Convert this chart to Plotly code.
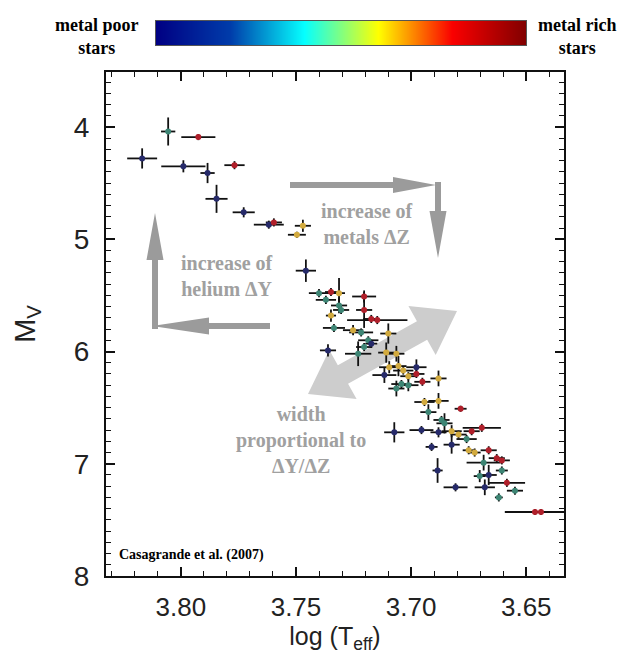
import plotly.graph_objects as go

# ---------------- data ----------------
log_teff = [3.8055, 3.7924, 3.8168, 3.7989, 3.7884, 3.7767, 3.7845, 3.7727, 3.7618, 3.7596, 3.7470, 3.7496, 3.7457,
            3.7400, 3.7348, 3.7313, 3.7370, 3.7313, 3.7304, 3.7348, 3.7335, 3.7204, 3.7204, 3.7173, 3.7147, 3.7252,
            3.7217, 3.7099, 3.7186, 3.7173, 3.7361, 3.7230, 3.7204, 3.7108, 3.7064,
            3.7116, 3.7095, 3.7055, 3.7034, 3.6977, 3.6977, 3.7012, 3.7042, 3.7012, 3.7064, 3.6951, 3.6881, 3.6942,
            3.6881, 3.6925, 3.6868, 3.6785,
            3.7073, 3.6955, 3.6881, 3.6855, 3.6824, 3.6794, 3.6737, 3.6693, 3.6759, 3.6911, 3.6824, 3.6750, 3.6724,
            3.6663, 3.6628, 3.6606, 3.6685, 3.6885, 3.6702, 3.6663, 3.6606, 3.6584, 3.6549, 3.6807, 3.6680, 3.6619,
            3.6462, 3.6436]
mv = [4.04, 4.09, 4.28, 4.35, 4.41, 4.34, 4.64, 4.76, 4.87, 4.85, 4.88, 4.96, 5.28,
      5.48, 5.47, 5.48, 5.54, 5.59, 5.63, 5.68, 5.79, 5.51, 5.63, 5.71, 5.72, 5.81, 5.83, 5.84, 5.90, 5.93, 5.99,
      6.02, 5.96, 6.01, 6.02,
      6.21, 6.14, 6.13, 6.17, 6.14, 6.20, 6.22, 6.29, 6.30, 6.33, 6.27, 6.24, 6.45, 6.44, 6.54, 6.61, 6.51,
      6.72, 6.70, 6.72, 6.64, 6.71, 6.74, 6.71, 6.68, 6.78, 6.85, 6.83, 6.88, 6.90, 6.88, 6.95, 6.97, 6.99, 7.06,
      7.11, 7.10, 7.06, 7.17, 7.24, 7.21, 7.21, 7.30, 7.43, 7.43]
err_log_teff = [0.0031, 0.0074, 0.0065, 0.0096, 0.0031, 0.0044, 0.0048, 0.0048, 0.0065, 0.0035, 0.0035, 0.0039, 0.0044,
                0.0044, 0.0026, 0.0026, 0.0044, 0.0035, 0.0035, 0.0022, 0.0048, 0.0052, 0.0035, 0.0035, 0.0131, 0.0044,
                0.0052, 0.0035, 0.0044, 0.0026, 0.0035, 0.0057, 0.0035, 0.0035, 0.0035,
                0.0052, 0.0044, 0.0035, 0.0044, 0.0044, 0.0035, 0.0035, 0.0044, 0.0044, 0.0035, 0.0035, 0.0035, 0.0044,
                0.0044, 0.0035, 0.0035, 0.0026,
                0.0044, 0.0052, 0.0035, 0.0035, 0.0044, 0.0035, 0.0035, 0.0083, 0.0044, 0.0026, 0.0035, 0.0026, 0.0026,
                0.0035, 0.0035, 0.0035, 0.0074, 0.0022, 0.0026, 0.0035, 0.0026, 0.0079, 0.0035, 0.0052, 0.0044, 0.0017,
                0.0131, 0.0044]
err_mv = [0.125, 0.027, 0.09, 0.054, 0.09, 0.036, 0.125, 0.045, 0.036, 0.036, 0.054, 0.027, 0.10,
          0.036, 0.036, 0.135, 0.036, 0.07, 0.036, 0.054, 0.036, 0.054, 0.16, 0.036, 0.036, 0.045, 0.036, 0.09,
          0.036, 0.036, 0.054, 0.11, 0.036, 0.09, 0.07,
          0.07, 0.054, 0.09, 0.036, 0.07, 0.036, 0.036, 0.036, 0.054, 0.07, 0.036, 0.07, 0.036, 0.07, 0.07, 0.036, 0.027,
          0.09, 0.036, 0.045, 0.09, 0.054, 0.036, 0.036, 0.036, 0.036, 0.036, 0.08, 0.036, 0.036, 0.036, 0.036, 0.036,
          0.07, 0.11, 0.054, 0.09, 0.036, 0.036, 0.036, 0.036, 0.07, 0.036, 0.027, 0.027]
# metallicity class: 0 = metal poor ... 3 = metal rich
metal_class = [1, 3, 0, 0, 0, 3, 0, 0, 0, 3, 2, 2, 0,
               1, 3, 2, 1, 1, 1, 2, 1, 3, 3, 3, 3, 2, 1, 2, 1, 0, 0, 1, 1, 2, 2,
               0, 2, 2, 2, 0, 3, 2, 1, 1, 1, 3, 2, 2, 2, 1, 1, 3,
               0, 0, 0, 1, 2, 2, 3, 3, 1, 0, 0, 2, 2, 3, 3, 3, 1, 0, 1, 0, 1, 3, 1, 0, 0, 1, 3, 3]
metallicity_scale = [0, 1]          # ends of the colour bar (metal poor -> metal rich)
x_ticks = [3.80, 3.75, 3.70, 3.65]
y_ticks = [4, 5, 6, 7, 8]

# ---------------- styling ----------------
class_colors = {0: "#262a6a", 1: "#3d8574", 2: "#d2aa3e", 3: "#b01f2a"}
W, H = 622, 659
L, R, T, B = 106, 564, 72, 576          # plot frame in pixels


def pp(x, y):
    """pixel -> paper (paper == whole figure, margins are zero)"""
    return x / W, 1 - y / H


def arrow_path(x0, y0, x1, y1, w, hl, hw, double=False):
    dx, dy = x1 - x0, y1 - y0
    ln = (dx * dx + dy * dy) ** 0.5
    ux, uy = dx / ln, dy / ln
    nx, ny = -uy, ux
    bx, by = x1 - ux * hl, y1 - uy * hl
    if double:
        sx, sy = x0 + ux * hl, y0 + uy * hl
    else:
        sx, sy = x0, y0
    pts = [(sx + nx * w / 2, sy + ny * w / 2), (bx + nx * w / 2, by + ny * w / 2),
           (bx + nx * hw / 2, by + ny * hw / 2), (x1, y1),
           (bx - nx * hw / 2, by - ny * hw / 2), (bx - nx * w / 2, by - ny * w / 2),
           (sx - nx * w / 2, sy - ny * w / 2)]
    if double:
        pts += [(sx - nx * hw / 2, sy - ny * hw / 2), (x0, y0), (sx + nx * hw / 2, sy + ny * hw / 2)]
    return "M " + " L ".join("%.5f,%.5f" % pp(a, b) for a, b in pts) + " Z"


fig = go.Figure()

fig.add_trace(go.Scatter(
    x=log_teff, y=mv, mode="markers",
    marker=dict(color=[class_colors[c] for c in metal_class], size=6, line=dict(width=0)),
    error_x=dict(type="data", array=err_log_teff, color="#111111", thickness=1.8, width=0),
    error_y=dict(type="data", array=err_mv, color="#111111", thickness=1.8, width=0),
    showlegend=False, hoverinfo="skip"))

# colour bar drawn as a smoothed two-cell heatmap in its own small axes
fig.add_trace(go.Heatmap(
    z=[metallicity_scale], x=metallicity_scale, y=[0], zsmooth="best",
    colorscale="Jet", zmin=0, zmax=1, showscale=False, hoverinfo="skip",
    xaxis="x2", yaxis="y2"))

g1 = "#9b9b9b"
g2 = "#cdcdcd"
shape_specs = [
    ((290, 185, 436, 185, 6, 43, 16, False), g1),
    ((438, 182, 438, 258, 6, 47, 17, False), g1),
    ((155, 329, 155, 213, 6, 47, 17, False), g1),
    ((270, 326, 152, 326, 6, 57, 17, False), g1),
    ((308, 394, 457, 311, 21, 40, 56, True), g2),
]
shapes = [dict(type="path", path=arrow_path(*a[:7], double=a[7]), fillcolor=c, line=dict(width=0),
               xref="paper", yref="paper", layer="below") for a, c in shape_specs]

serif_gray = dict(family="Liberation Serif", size=20, color="#a0a0a0", weight="bold")
serif_black = dict(family="Liberation Serif", size=18, color="#000", weight="bold")
annotations = []


def txt(x, y, s, font, xanchor="center"):
    xp, yp = pp(x, y)
    annotations.append(dict(x=xp, y=yp, xref="paper", yref="paper", text=s, showarrow=False,
                            font=font, xanchor=xanchor, yanchor="middle", align="center"))


txt(367, 224, "increase of<br>metals \u0394Z", serif_gray)
txt(227, 276, "increase of<br>helium \u0394Y", serif_gray)
txt(301, 440, "width<br>proportional to<br>\u0394Y/\u0394Z", serif_gray)
txt(117, 555, "Casagrande et al. (2007)", dict(family="Liberation Serif", size=14, color="#000", weight="bold"),
    xanchor="left")
txt(96, 36, "metal poor<br>stars", serif_black)
txt(577, 36, "metal rich<br>stars", serif_black)

common = dict(showline=True, linewidth=2, linecolor="#111", mirror="allticks", ticks="inside",
              tickwidth=1.6, tickcolor="#111", ticklen=9, showgrid=False, zeroline=False)

fig.update_layout(
    width=W, height=H, margin=dict(l=0, r=0, t=0, b=0, autoexpand=False),
    paper_bgcolor="white", plot_bgcolor="white",
    xaxis=dict(domain=[L / W, R / W], range=[3.8325, 3.6336], tickmode="array", tickvals=x_ticks,
               ticktext=["%.2f" % v for v in x_ticks], ticklabelstandoff=7,
               tickfont=dict(family="Liberation Sans", size=26, color="#222"),
               minor=dict(ticks="inside", dtick=0.01, tick0=3.80, ticklen=5, tickwidth=1.4, tickcolor="#111"),
               title=dict(text="log (T<sub>eff</sub>)", font=dict(family="Liberation Sans", size=25, color="#222"),
                          standoff=6),
               **common),
    yaxis=dict(domain=[1 - B / H, 1 - T / H], range=[8.0, 3.51], tickmode="array", tickvals=y_ticks,
               ticklabelstandoff=9,
               tickfont=dict(family="Liberation Sans", size=28, color="#222"),
               minor=dict(ticks="inside", dtick=0.1, tick0=4, ticklen=5, tickwidth=1.4, tickcolor="#111"),
               title=dict(text="M<sub>V</sub>", font=dict(family="Liberation Sans", size=29, color="#222"),
                          standoff=30),
               **common),
    xaxis2=dict(domain=[156 / W, 526 / W], range=[0, 1], anchor="y2", showticklabels=False, ticks="",
                showgrid=False, zeroline=False, showline=True, linecolor="#555", linewidth=1, mirror=True),
    yaxis2=dict(domain=[1 - 45 / H, 1 - 21 / H], range=[-0.5, 0.5], anchor="x2", showticklabels=False,
                ticks="", showgrid=False, zeroline=False, showline=True, linecolor="#555", linewidth=1,
                mirror=True),
    shapes=shapes, annotations=annotations,
)

fig.write_html("out.html")
